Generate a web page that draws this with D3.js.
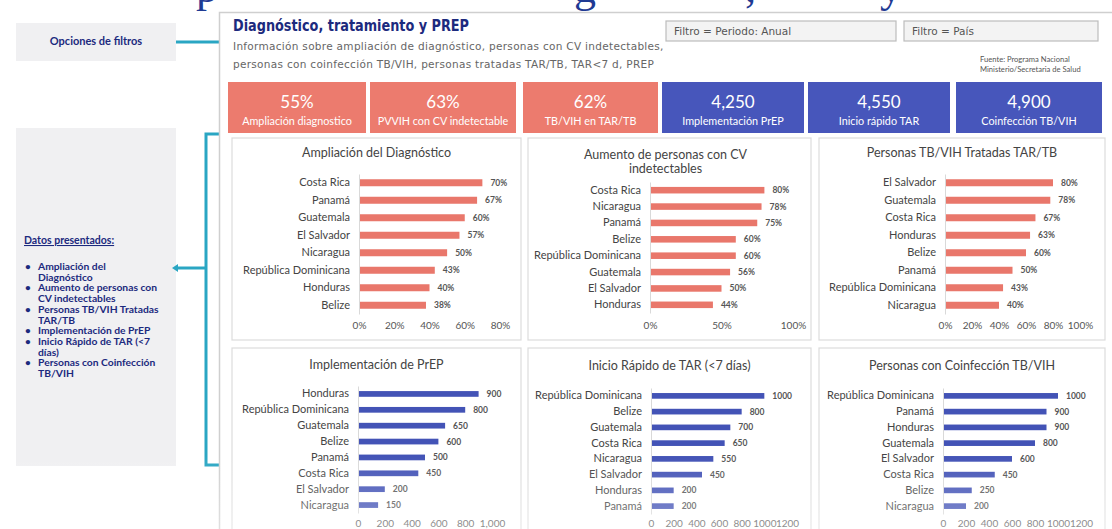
<!DOCTYPE html>
<html><head><meta charset="utf-8">
<script src="https://cdn.jsdelivr.net/npm/d3@7"></script>
<style>body{margin:0;background:#fff}svg{display:block}</style>
</head><body>
<svg id="c" width="1112" height="529"></svg>
<script>
// ---------- DATA ----------
const kpiValues = ["55%", "63%", "62%", "4,250", "4,550", "4,900"];
const kpiLabels = ["Ampliación diagnostico", "PVVIH con CV indetectable", "TB/VIH en TAR/TB", "Implementación PrEP", "Inicio rápido TAR", "Coinfección TB/VIH"];
const kpiKinds = ["pct", "pct", "pct", "num", "num", "num"];

const chartTitles = [["Ampliación del Diagnóstico"], ["Aumento de personas con CV", "indetectables"], ["Personas TB/VIH Tratadas TAR/TB"],
  ["Implementación de PrEP"], ["Inicio Rápido de TAR (<7 días)"], ["Personas con Coinfección TB/VIH"]];

const cats1 = ["Costa Rica", "Panamá", "Guatemala", "El Salvador", "Nicaragua", "República Dominicana", "Honduras", "Belize"];
const vals1 = [70, 67, 60, 57, 50, 43, 40, 38];
const ticks1 = [0, 20, 40, 60, 80];

const cats2 = ["Costa Rica", "Nicaragua", "Panamá", "Belize", "República Dominicana", "Guatemala", "El Salvador", "Honduras"];
const vals2 = [80, 78, 75, 60, 60, 56, 50, 44];
const ticks2 = [0, 50, 100];

const cats3 = ["El Salvador", "Guatemala", "Costa Rica", "Honduras", "Belize", "Panamá", "República Dominicana", "Nicaragua"];
const vals3 = [80, 78, 67, 63, 60, 50, 43, 40];
const ticks3 = [0, 20, 40, 60, 80, 100];

const cats4 = ["Honduras", "República Dominicana", "Guatemala", "Belize", "Panamá", "Costa Rica", "El Salvador", "Nicaragua"];
const vals4 = [900, 800, 650, 600, 500, 450, 200, 150];
const ticks4 = [0, 200, 400, 600, 800, 1000];

const cats5 = ["República Dominicana", "Belize", "Guatemala", "Costa Rica", "Nicaragua", "El Salvador", "Honduras", "Panamá"];
const vals5 = [1000, 800, 700, 650, 550, 450, 200, 200];
const ticks5 = [0, 200, 400, 600, 800, 1000, 1200];

const cats6 = ["República Dominicana", "Panamá", "Honduras", "Guatemala", "El Salvador", "Costa Rica", "Belize", "Nicaragua"];
const vals6 = [1000, 900, 900, 800, 600, 450, 250, 200];
const ticks6 = [0, 200, 400, 600, 800, 1000, 1200];

const bulletItems = [["Ampliación del", "Diagnóstico"], ["Aumento de personas con", "CV indetectables"], ["Personas TB/VIH Tratadas", "TAR/TB"],
  ["Implementación de PrEP"], ["Inicio Rápido de TAR (<7", "días)"], ["Personas con Coinfección", "TB/VIH"]];

// ---------- STYLE ----------
const NAVY = "#1c2a7e", TEAL = "#2aa6c3", SALMON = "#ec7b6e", BLUE = "#4756bb";
const BAR_SALMON = "#e9776b", BAR_BLUE = "#4353b6";
const FONT = "Lato, 'Open Sans', sans-serif";

const svg = d3.select("#c");

// big slide title (cut off at top)
const bigG = svg.append("g").attr("fill", "#1f3a93").style("font-family", "'Liberation Serif', serif").style("font-size", "44px");
[["p", 196], ["g", 574], [",", 745], ["y", 880]].forEach(([t, x]) => bigG.append("text").attr("x", x).attr("y", 2).text(t));

// left: Opciones de filtros
svg.append("rect").attr("x", 16).attr("y", 23).attr("width", 160).attr("height", 38).attr("fill", "#f0f0f2");
svg.append("text").attr("x", 96).attr("y", 45).attr("text-anchor", "middle").attr("fill", NAVY)
  .style("font-family", FONT).style("font-size", "11px").style("font-weight", "bold").text("Opciones de filtros");
svg.append("line").attr("x1", 176).attr("x2", 228).attr("y1", 42).attr("y2", 42).attr("stroke", TEAL).attr("stroke-width", 3);
svg.append("path").attr("d", "M228,38 L234,42 L228,46 Z").attr("fill", TEAL);

// left: Datos presentados
svg.append("rect").attr("x", 16).attr("y", 128).attr("width", 160).attr("height", 338).attr("fill", "#f0f0f2");
svg.append("text").attr("x", 24).attr("y", 244).attr("fill", NAVY).attr("text-decoration", "underline")
  .style("font-family", FONT).style("font-size", "10.5px").style("font-weight", "bold").text("Datos presentados:");
let by = 270;
bulletItems.forEach(lines => {
  svg.append("text").attr("x", 25).attr("y", by).attr("fill", NAVY).style("font-family", FONT).style("font-size", "10px").style("font-weight", "bold").text("•");
  lines.forEach((l, i) => {
    svg.append("text").attr("x", 38).attr("y", by + i * 10.7).attr("fill", NAVY)
      .style("font-family", FONT).style("font-size", "10.3px").style("font-weight", "bold").text(l);
  });
  by += lines.length * 10.7;
});
// bracket
svg.append("path").attr("d", "M226,134 L206,134 L206,465 L226,465").attr("fill", "none").attr("stroke", TEAL).attr("stroke-width", 3);
svg.append("line").attr("x1", 206).attr("x2", 178).attr("y1", 268).attr("y2", 268).attr("stroke", TEAL).attr("stroke-width", 3);
svg.append("path").attr("d", "M178,264 L172,268 L178,272 Z").attr("fill", TEAL);

// dashboard frame
svg.append("rect").attr("x", 219.5).attr("y", 12.5).attr("width", 900).attr("height", 540).attr("fill", "#fff").attr("stroke", "#cfcfcf").attr("stroke-width", 1.5);

svg.append("text").attr("x", 233).attr("y", 31).attr("fill", NAVY).style("font-family", "'DejaVu Sans Condensed', 'DejaVu Sans', sans-serif")
  .style("font-size", "16px").style("font-weight", "bold").attr("textLength", 236).attr("lengthAdjust", "spacingAndGlyphs")
  .text("Diagnóstico, tratamiento y PREP");
svg.append("text").attr("x", 233).attr("y", 50).attr("fill", "#666").style("font-family", "'DejaVu Sans', sans-serif")
  .style("font-size", "10.5px").style("letter-spacing", "0.3px").text("Información sobre ampliación de diagnóstico,  personas con CV indetectables,");
svg.append("text").attr("x", 233).attr("y", 68).attr("fill", "#666").style("font-family", "'DejaVu Sans', sans-serif")
  .style("font-size", "10.5px").style("letter-spacing", "0.3px").text("personas con coinfección TB/VIH, personas tratadas TAR/TB, TAR<7 d, PREP");

// filters
[["Filtro = Periodo: Anual", 666, 230], ["Filtro = País", 904, 194]].forEach(([t, x, w]) => {
  svg.append("rect").attr("x", x).attr("y", 21).attr("width", w).attr("height", 20).attr("fill", "#f3f3f3").attr("stroke", "#bdbdbd").attr("stroke-width", 1.2);
  svg.append("text").attr("x", x + 8).attr("y", 35).attr("fill", "#555").style("font-family", "'DejaVu Sans', sans-serif").style("font-size", "10.5px").text(t);
});
svg.append("text").attr("x", 980).attr("y", 62).attr("fill", "#555").style("font-family", FONT).style("font-size", "7.6px").text("Fuente: Programa Nacional");
svg.append("text").attr("x", 980).attr("y", 72).attr("fill", "#555").style("font-family", FONT).style("font-size", "7.6px").text("Ministerio/Secretaria de Salud");

// KPI boxes
const kpiX = [228, 370, 523, 662, 808, 956];
const kpiW = [138, 146, 135, 142, 142, 146];
kpiValues.forEach((v, i) => {
  const g = svg.append("g");
  g.append("rect").attr("x", kpiX[i]).attr("y", 82).attr("width", kpiW[i]).attr("height", 51)
    .attr("fill", kpiKinds[i] === "pct" ? SALMON : BLUE);
  const cx = kpiX[i] + kpiW[i] / 2;
  g.append("text").attr("x", cx).attr("y", 108).attr("text-anchor", "middle").attr("fill", "#fff")
    .style("font-family", FONT).style("font-size", "17px").text(v);
  g.append("text").attr("x", cx).attr("y", 125).attr("text-anchor", "middle").attr("fill", "#fff")
    .style("font-family", FONT).style("font-size", "10.8px").text(kpiLabels[i]);
});

// panels
const panels = [
  {x: 232, y: 138, w: 289, h: 202}, {x: 528, y: 138, w: 283, h: 202}, {x: 819, y: 138, w: 286, h: 202},
  {x: 232, y: 348, w: 289, h: 200}, {x: 528, y: 348, w: 283, h: 200}, {x: 819, y: 348, w: 286, h: 200}
];
panels.forEach(p => svg.append("rect").attr("x", p.x).attr("y", p.y).attr("width", p.w).attr("height", p.h)
  .attr("fill", "#fff").attr("stroke", "#dcdcdc").attr("stroke-width", 1.2));

const pct = d => d + "%";
const charts = [
  {cats: cats1, vals: vals1, ticks: ticks1, max: 80, fmt: pct, lab: pct, color: BAR_SALMON, x0: 359, x1: 500, y0: 174, y1: 314, ty: 157, ay: 330, pad: 0.6},
  {cats: cats2, vals: vals2, ticks: ticks2, max: 100, fmt: pct, lab: pct, color: BAR_SALMON, x0: 650, x1: 793, y0: 182, y1: 313, ty: 159, ay: 330, pad: 0.6},
  {cats: cats3, vals: vals3, ticks: ticks3, max: 100, fmt: pct, lab: pct, color: BAR_SALMON, x0: 945, x1: 1080, y0: 174, y1: 314, ty: 157, ay: 330, pad: 0.6},
  {cats: cats4, vals: vals4, ticks: ticks4, max: 1000, fmt: d3.format(","), lab: d => d, color: BAR_BLUE, x0: 358, x1: 492, y0: 386, y1: 513, ty: 369, ay: 528, pad: 0.64},
  {cats: cats5, vals: vals5, ticks: ticks5, max: 1200, fmt: d => d, lab: d => d, color: BAR_BLUE, x0: 651, x1: 787, y0: 388, y1: 514, ty: 370, ay: 528, pad: 0.64},
  {cats: cats6, vals: vals6, ticks: ticks6, max: 1200, fmt: d => d, lab: d => d, color: BAR_BLUE, x0: 943, x1: 1081, y0: 388, y1: 514, ty: 370, ay: 528, pad: 0.64}
];

charts.forEach((c, i) => {
  const p = panels[i];
  const g = svg.append("g").style("font-family", FONT);
  const x = d3.scaleLinear().domain([0, c.max]).range([c.x0, c.x1]);
  const y = d3.scaleBand().domain(c.cats).range([c.y0, c.y1]).paddingInner(c.pad).paddingOuter(c.pad / 2);

  // title
  chartTitles[i].forEach((t, k) => g.append("text").attr("x", p.x + p.w / 2 + (i === 1 ? -4 : 0)).attr("y", c.ty + k * 14)
    .attr("text-anchor", "middle").attr("fill", "#444").style("font-size", "12.5px").text(t));

  // y axis
  const ya = g.append("g").attr("transform", `translate(${c.x0},0)`).call(d3.axisLeft(y).tickSize(0).tickPadding(9));
  ya.select(".domain").attr("stroke", "#d9d9d9");
  ya.selectAll("text").attr("fill", "#444").style("font-size", "11px").style("font-family", FONT);

  // bars
  g.selectAll("rect.bar").data(c.cats).join("rect").attr("class", "bar")
    .attr("x", x(0) + 1).attr("y", d => y(d)).attr("height", y.bandwidth())
    .attr("width", (d, j) => x(c.vals[j]) - x(0) - 1).attr("fill", c.color);
  g.selectAll("text.val").data(c.cats).join("text").attr("class", "val")
    .attr("x", (d, j) => x(c.vals[j]) + 8).attr("y", d => y(d) + y.bandwidth() / 2 + 3)
    .attr("fill", "#555").style("font-size", "8.5px").style("font-weight", "bold")
    .text((d, j) => c.lab(c.vals[j]));

  // x axis
  const xa = g.append("g").attr("transform", `translate(0,${c.ay - 10})`).call(d3.axisBottom(x).tickValues(c.ticks).tickFormat(c.fmt).tickSize(0).tickPadding(0));
  xa.select(".domain").remove();
  xa.selectAll("text").attr("fill", "#555").style("font-size", "10px").style("font-family", FONT).attr("dy", "0.9em");
});

// bottom video fade
const defs = svg.append("defs");
const lg = defs.append("linearGradient").attr("id", "fade").attr("x1", 0).attr("x2", 0).attr("y1", 0).attr("y2", 1);
lg.append("stop").attr("offset", 0).attr("stop-color", "#fff").attr("stop-opacity", 0);
lg.append("stop").attr("offset", 1).attr("stop-color", "#fff").attr("stop-opacity", 0.35);
svg.append("rect").attr("x", 0).attr("y", 455).attr("width", 1112).attr("height", 74).attr("fill", "url(#fade)");
</script>
</body></html>
